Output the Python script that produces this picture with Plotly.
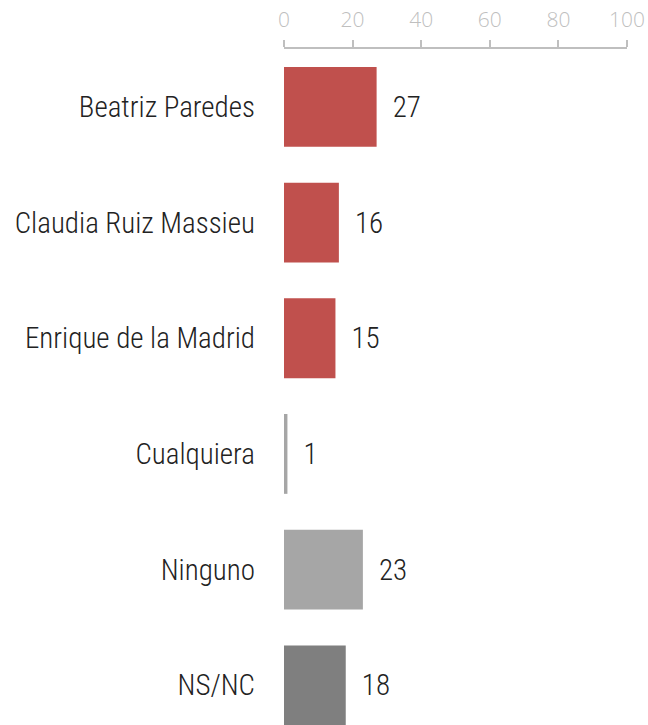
import plotly.graph_objects as go

categories = ["Beatriz Paredes", "Claudia Ruiz Massieu", "Enrique de la Madrid",
              "Cualquiera", "Ninguno", "NS/NC"]
values = [27, 16, 15, 1, 23, 18]
colors = ["#C0504D", "#C0504D", "#C0504D", "#A6A6A6", "#A6A6A6", "#7F7F7F"]
tick_vals = [0, 20, 40, 60, 80, 100]

LABEL_FONT = "Roboto Condensed, Liberation Sans Narrow, DejaVu Sans Condensed, Roboto"

fig = go.Figure(go.Bar(
    x=values, y=categories, orientation="h",
    marker=dict(color=colors, line=dict(width=0)),
    width=0.69,
    text=values, texttemplate="  %{x}", textposition="outside",
    textfont=dict(family=LABEL_FONT, size=29, color="#222222", weight=300),
    cliponaxis=False,
))

fig.update_layout(
    width=648, height=725,
    margin=dict(l=284, r=21, t=49, b=0, autoexpand=False),
    paper_bgcolor="white", plot_bgcolor="white",
    showlegend=False,
    bargap=0.31,
    xaxis=dict(
        side="top", range=[0, 100], tickvals=tick_vals,
        showgrid=False, zeroline=False, automargin=False,
        showline=True, linecolor="#BFBFBF", linewidth=1.5,
        ticks="outside", ticklen=7, tickcolor="#BFBFBF", tickwidth=1.5,
        ticklabelstandoff=5,
        tickfont=dict(family="Open Sans", size=21, color="#BFBFBF", weight=300),
    ),
    yaxis=dict(
        categoryorder="array", categoryarray=categories,
        range=[5.343, -0.5], showgrid=False, zeroline=False, showline=False,
        automargin=False,
        ticks="", ticklabelstandoff=28,
        tickfont=dict(family=LABEL_FONT, size=29, color="#222222", weight=300),
    ),
)

fig.write_html(
    "out.html",
    config={"displayModeBar": False},
    post_script="document.body.style.margin='0';document.body.style.overflow='hidden';",
)
